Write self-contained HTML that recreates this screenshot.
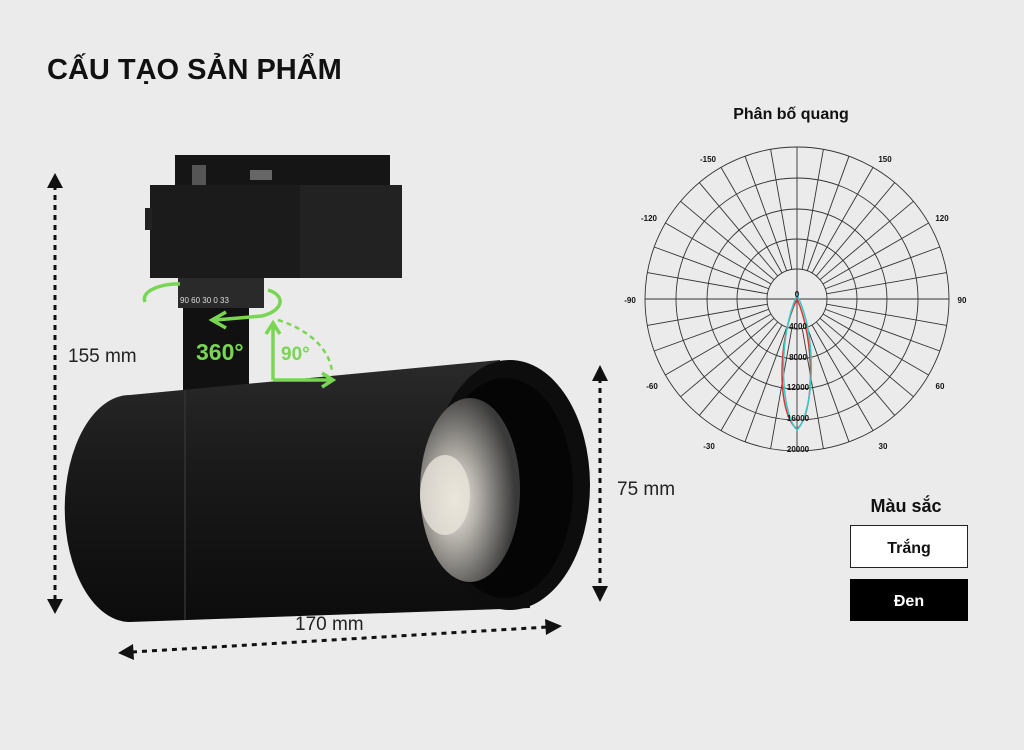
<!DOCTYPE html>
<html><head><meta charset="utf-8"><style>
body{margin:0;width:1024px;height:750px;background:#ebebeb;overflow:hidden;font-family:"Liberation Sans",sans-serif}
</style></head><body>
<svg width="1024" height="750" viewBox="0 0 1024 750" xmlns="http://www.w3.org/2000/svg" style="position:absolute;left:0;top:0">
<defs>
<radialGradient id="led" cx="0.35" cy="0.55" r="0.6"><stop offset="0" stop-color="#f4f0e6"/><stop offset="0.35" stop-color="#b9b5ae"/><stop offset="1" stop-color="#3a3a3a"/></radialGradient>
<linearGradient id="body" x1="0" y1="0" x2="0" y2="1"><stop offset="0" stop-color="#2a2a2a"/><stop offset="0.4" stop-color="#1a1a1a"/><stop offset="1" stop-color="#0c0c0c"/></linearGradient>
</defs>
<text x="47" y="79" font-size="29" font-weight="bold" fill="#111">CẤU TẠO SẢN PHẨM</text>

<rect x="175" y="155" width="215" height="35" fill="#151515"/>
<rect x="192" y="165" width="14" height="20" fill="#555"/>
<rect x="250" y="170" width="22" height="10" fill="#666"/>
<rect x="150" y="185" width="252" height="93" fill="#1b1b1b"/>
<rect x="300" y="185" width="102" height="93" fill="#222"/>
<rect x="145" y="208" width="7" height="22" fill="#222"/>
<rect x="178" y="278" width="86" height="30" fill="#2a2a2a"/>
<text x="180" y="303" font-size="8" fill="#ddd">90  60  30  0 33</text>
<rect x="183" y="308" width="66" height="95" fill="#111"/>

<path d="M130,395 L500,360 L530,608 L130,622 A65,113 0 0 1 130,395 Z" fill="url(#body)"/>
<path d="M185,390 L185,620" stroke="#333" stroke-width="1.5"/>
<ellipse cx="510" cy="485" rx="80" ry="125" fill="#0d0d0d"/>
<ellipse cx="505" cy="488" rx="68" ry="110" fill="#050505"/>
<ellipse cx="470" cy="490" rx="50" ry="92" fill="url(#led)"/>
<ellipse cx="445" cy="495" rx="25" ry="40" fill="#e8e4da" opacity="0.8"/>

<g stroke="#79d653" stroke-width="3.5" fill="none">
<path d="M145,302 C140,290 165,283 180,284"/>
<path d="M268,290 C285,295 285,310 262,316 L215,320"/>
<path d="M226,312 L212,320 L226,328"/>
<path d="M273,380 L273,325 M266,334 L273,323 L280,334"/>
<path d="M273,380 L330,380 M322,373 L333,380 L322,387"/>
<path d="M278,320 C310,330 330,350 332,372" stroke-dasharray="5,4" stroke-width="2.5"/>
</g>
<text x="196" y="360" font-size="23" font-weight="bold" fill="#79d653">360°</text>
<text x="281" y="360" font-size="19" font-weight="bold" fill="#79d653">90°</text>

<g stroke="#111" stroke-width="3" stroke-dasharray="5,5" fill="none">
<line x1="55" y1="185" x2="55" y2="603"/>
<line x1="600" y1="378" x2="600" y2="590"/>
<line x1="132" y1="652" x2="548" y2="627"/>
</g>
<g fill="#111">
<polygon points="47,188 55,173 63,188"/><polygon points="47,599 55,614 63,599"/>
<polygon points="592,381 600,365 608,381"/><polygon points="592,586 600,602 608,586"/>
<polygon points="133,644 118,653 134,660"/><polygon points="545,619 562,626 546,635"/>
</g>
<g font-size="19" fill="#222">
<text x="68" y="362">155 mm</text>
<text x="617" y="495">75 mm</text>
<text x="295" y="630">170 mm</text>
</g>

<text x="791" y="119" font-size="16" font-weight="bold" fill="#111" text-anchor="middle">Phân bố quang</text>
<g stroke="#333" stroke-width="0.9" fill="none" transform="translate(797,299)">
<circle r="30"/><circle r="60"/><circle r="90"/><circle r="121"/><circle r="152"/>
<line x1="-152" y1="0" x2="152" y2="0"/><line x1="0" y1="-152" x2="0" y2="152"/>
<g id="sp">
<line x1="30" y1="0" x2="152" y2="0" transform="rotate(10)"/>
<line x1="30" y1="0" x2="152" y2="0" transform="rotate(20)"/>
<line x1="30" y1="0" x2="152" y2="0" transform="rotate(30)"/>
<line x1="30" y1="0" x2="152" y2="0" transform="rotate(40)"/>
<line x1="30" y1="0" x2="152" y2="0" transform="rotate(50)"/>
<line x1="30" y1="0" x2="152" y2="0" transform="rotate(60)"/>
<line x1="30" y1="0" x2="152" y2="0" transform="rotate(70)"/>
<line x1="30" y1="0" x2="152" y2="0" transform="rotate(80)"/>
</g>
<use href="#sp" transform="rotate(90)"/><use href="#sp" transform="rotate(180)"/><use href="#sp" transform="rotate(270)"/>
<path d="M0,0 C-20,40 -20,115 0,130 C18,115 18,40 0,0Z" stroke="#d33" stroke-width="1.5"/>
<path d="M0,-4 C-20,40 -16,115 0,131 C16,115 22,40 0,-4Z" stroke="#3cc" stroke-width="1.5"/>
</g>
<g font-size="8" font-weight="bold" fill="#111" text-anchor="middle">
<text x="708" y="162">-150</text><text x="885" y="162">150</text>
<text x="649" y="221">-120</text><text x="942" y="221">120</text>
<text x="630" y="303">-90</text><text x="962" y="303">90</text>
<text x="652" y="389">-60</text><text x="940" y="389">60</text>
<text x="709" y="449">-30</text><text x="883" y="449">30</text>
<text x="797" y="297">0</text><text x="798" y="329">4000</text><text x="798" y="360">8000</text>
<text x="798" y="390">12000</text><text x="798" y="421">16000</text><text x="798" y="452">20000</text>
</g>

<text x="906" y="512" font-size="18" font-weight="bold" fill="#111" text-anchor="middle">Màu sắc</text>
<rect x="850.5" y="525.5" width="117" height="42" fill="#fff" stroke="#222"/>
<text x="909" y="553" font-size="16" font-weight="bold" fill="#111" text-anchor="middle">Trắng</text>
<rect x="850" y="579" width="118" height="42" fill="#000"/>
<text x="909" y="606" font-size="16" font-weight="bold" fill="#fff" text-anchor="middle">Đen</text>
</svg>
</body></html>
